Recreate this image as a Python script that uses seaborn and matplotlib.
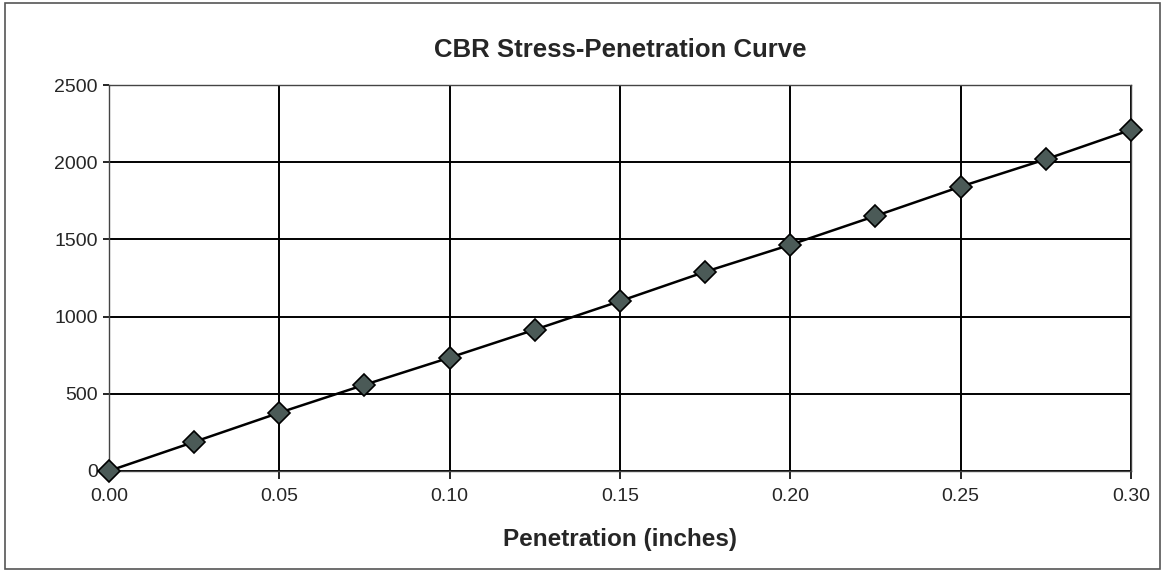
import numpy as np
import pandas as pd
import matplotlib.pyplot as plt
import seaborn as sns
from matplotlib.patches import Rectangle

# Data
penetration = [0.0, 0.025, 0.05, 0.075, 0.10, 0.125, 0.15, 0.175, 0.20, 0.225, 0.25, 0.275, 0.30]
stress = [0, 188, 377, 558, 734, 915, 1100, 1290, 1465, 1652, 1842, 2019, 2210]
x_ticks = [0.00, 0.05, 0.10, 0.15, 0.20, 0.25, 0.30]
y_ticks = [0, 500, 1000, 1500, 2000, 2500]

df = pd.DataFrame({"Penetration": penetration, "Stress": stress})

sns.set_style("white")
plt.rcParams['font.family'] = ['Liberation Sans', 'DejaVu Sans']

fig = plt.figure(figsize=(11.67, 5.75), dpi=100)
ax = fig.add_axes([0.0934, 0.181, 0.8756, 0.671])

sns.lineplot(data=df, x="Penetration", y="Stress", color="black", linewidth=1.8,
             marker="D", markersize=11, markerfacecolor="#4b5a57",
             markeredgecolor="black", markeredgewidth=1.2, ax=ax, clip_on=False, zorder=5)

ax.set_xlim(0, 0.30)
ax.set_ylim(0, 2500)
ax.set_xticks(x_ticks)
ax.set_xticklabels([f"{t:.2f}" for t in x_ticks])
ax.set_yticks(y_ticks)
ax.grid(True, color="black", linewidth=1.4)
ax.set_axisbelow(True)
for spine in ax.spines.values():
    spine.set_linewidth(1.0)
    spine.set_color("#444444")

ax.tick_params(axis='x', direction='out', length=6, width=1.2, color='black', labelsize=14, pad=6, bottom=True)
ax.tick_params(axis='y', direction='out', length=4, width=1.2, color='black', labelsize=14, pad=4, left=True)

ax.set_xlabel("Penetration (inches)", fontsize=17.5, fontweight="bold", labelpad=17)
ax.set_ylabel("")
ax.set_title("CBR Stress-Penetration Curve", fontsize=18.5, fontweight="bold", pad=20)

# outer chart border
fig.patches.append(Rectangle((0.004, 0.01), 0.99, 0.985, transform=fig.transFigure,
                             fill=False, edgecolor="#555555", linewidth=1.2))

plt.savefig("out.png", dpi=100)
plt.close()
